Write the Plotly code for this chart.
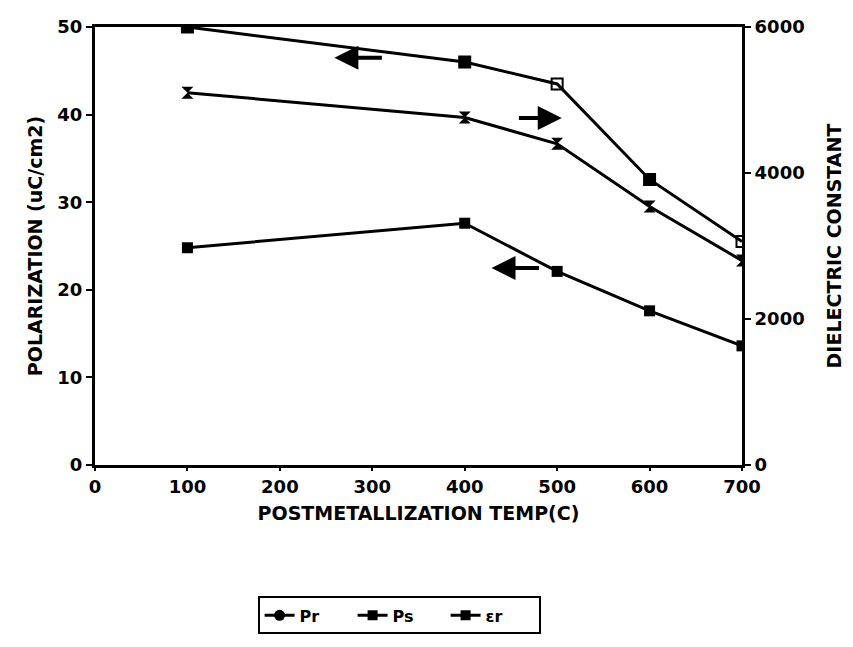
import plotly.graph_objects as go

temps = [100, 400, 500, 600, 700]
pr_values = [24.8, 27.6, 22.1, 17.6, 13.6]
ps_values = [50.0, 46.0, 43.5, 32.6, 25.5]
er_values = [5100, 4760, 4400, 3540, 2800]

x_ticks = [0, 100, 200, 300, 400, 500, 600, 700]
y_ticks = [0, 10, 20, 30, 40, 50]
y2_ticks = [0, 2000, 4000, 6000]

FONT = "DejaVu Sans"
fig = go.Figure()

fig.add_trace(go.Scatter(x=temps, y=ps_values, mode="lines+markers", showlegend=False,
                         line=dict(color="black", width=3),
                         marker=dict(symbol=["square", "square", "square-open", "square", "square-open"],
                                     size=11, color="black", line=dict(color="black", width=2))))
fig.add_trace(go.Scatter(x=temps, y=er_values, mode="lines+markers", showlegend=False, yaxis="y2",
                         line=dict(color="black", width=3),
                         marker=dict(symbol="hourglass", size=12, color="black")))
fig.add_trace(go.Scatter(x=temps, y=pr_values, mode="lines+markers", showlegend=False,
                         line=dict(color="black", width=3),
                         marker=dict(symbol="square", size=11, color="black")))

# legend entries
fig.add_trace(go.Scatter(x=[None], y=[None], mode="lines+markers", name="Pr",
                         line=dict(color="black", width=3), marker=dict(symbol="circle", size=11, color="black")))
fig.add_trace(go.Scatter(x=[None], y=[None], mode="lines+markers", name="Ps",
                         line=dict(color="black", width=3), marker=dict(symbol="square", size=10, color="black")))
fig.add_trace(go.Scatter(x=[None], y=[None], mode="lines+markers", name="εr",
                         line=dict(color="black", width=3), marker=dict(symbol="square", size=10, color="black")))

# direction arrows
arrows = [(259, 46.5, 312, 46.5), (505, 39.6, 457, 39.6), (429, 22.5, 482, 22.5)]
for hx, hy, tx, ty in arrows:
    fig.add_annotation(x=hx, y=hy, ax=tx, ay=ty, xref="x", yref="y", axref="x", ayref="y",
                       text="", showarrow=True, arrowhead=2, arrowsize=1.2, arrowwidth=4,
                       arrowcolor="black")

tickfont = dict(family=FONT, size=18, color="black", weight="bold")
titlefont = dict(family=FONT, size=19, color="black", weight="bold")

fig.update_layout(
    width=853, height=647,
    margin=dict(l=95, r=111, t=27, b=182),
    paper_bgcolor="white", plot_bgcolor="white",
    xaxis=dict(range=[0, 700], tickvals=x_ticks, ticks="outside", ticklen=3, tickwidth=2,
               tickcolor="black", showline=True, linecolor="black", linewidth=3, mirror=True,
               showgrid=False, zeroline=False, tickfont=tickfont,
               title=dict(text="POSTMETALLIZATION TEMP(C)", font=titlefont, standoff=12)),
    yaxis=dict(range=[0, 50], tickvals=y_ticks, ticks="outside", ticklen=6, tickwidth=2,
               tickcolor="black", showline=True, linecolor="black", linewidth=3,
               showgrid=False, zeroline=False, tickfont=tickfont,
               title=dict(text="POLARIZATION (uC/cm2)", font=titlefont, standoff=10)),
    yaxis2=dict(range=[0, 6000], tickvals=y2_ticks, overlaying="y", side="right",
                ticks="outside", ticklen=6, tickwidth=2, tickcolor="black",
                showline=True, linecolor="black", linewidth=3, showgrid=False, zeroline=False,
                tickfont=tickfont,
                title=dict(text="DIELECTRIC CONSTANT", font=titlefont, standoff=24)),
    legend=dict(orientation="h", x=0.47, y=-0.3, xanchor="center", yanchor="top",
                bordercolor="black", borderwidth=2, bgcolor="white", entrywidth=48,
                font=dict(family=FONT, size=16, color="black", weight="bold")),
)

fig.write_html("out.html")
